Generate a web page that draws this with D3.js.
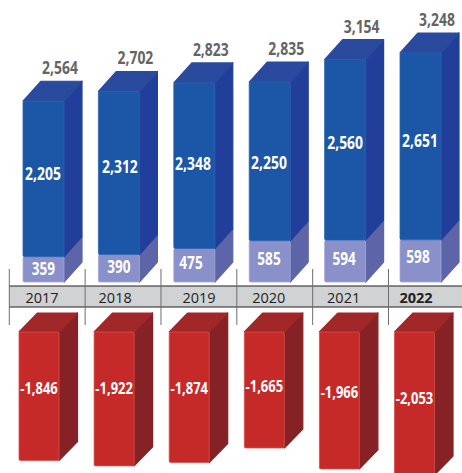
<!DOCTYPE html>
<html><head><meta charset="utf-8">
<script src="https://cdn.jsdelivr.net/npm/d3@7"></script>
<style>html,body{margin:0;padding:0;background:#fff;overflow:hidden}svg{display:block}</style>
</head><body><div id="c"></div>
<script>
const years = ["2017","2018","2019","2020","2021","2022"];
const boldYear = "2022";
const lower = [359,390,475,585,594,598];
const upper = [2205,2312,2348,2250,2560,2651];
const totals = [2564,2702,2823,2835,3154,3248];
const negative = [-1846,-1922,-1874,-1665,-1966,-2053];

const W=462,H=473;
const svg=d3.select("#c").append("svg").attr("width",W).attr("height",H).attr("viewBox",[0,0,W,H]);
const fmt=d3.format(",");
const fmtHyphen=v=>fmt(v).replace("\u2212","-");
const FONT="'Open Sans',sans-serif";

const xTop=d3.scaleLinear().domain([0,5]).range([23,400]);
const xBot=d3.scaleLinear().domain([0,5]).range([19,394.5]);
const xTick=d3.scaleLinear().domain([0,5]).range([9.3,388.5]);
const yUp=d3.scaleLinear().domain([0,3248]).range([282,53]);
const yDn=d3.scaleLinear().domain([0,-2053]).range([332,475]);
const bw=41, dxT=18, dyT=20, bwB=40, dxB=18.5, dyB=19;

// hand placement of the labels in the source layout, relative to the scale-derived anchor
const yearShift=[32.7,30,38,32,31,27.5];
const upperShift=[[-.5,1],[1,0],[-1.3,4],[-.7,7.5],[0,-1],[-.5,.5]];
const lowerShift=[[-.2,5.6],[0,4.8],[-3.3,3.7],[-.7,3.6],[-1,4],[-2.5,2]];
const negShift=[-2,-4.5,-3,2.5,-2,0];

function block(g,x,w,dx,dy,y0,y1,cols,showTop){
  const path=pts=>"M"+pts.map(p=>p.join(",")).join("L")+"Z";
  const st=(s,c)=>s.attr("fill",c).attr("stroke",c).attr("stroke-width",1.2).attr("stroke-linejoin","round");
  st(g.append("path").attr("d",path([[x+w,y0],[x+w+dx,y0-dy],[x+w+dx,y1-dy],[x+w,y1]])),cols.side);
  if(showTop) st(g.append("path").attr("d",path([[x,y0],[x+dx,y0-dy],[x+w+dx,y0-dy],[x+w,y0]])),cols.top);
  g.append("rect").attr("x",x).attr("y",y0).attr("width",w).attr("height",y1-y0).attr("rx",1.5)
    .attr("fill",cols.front).attr("stroke",cols.edge).attr("stroke-width",.8);
}
const colBlue={front:"#1c56a6",side:"#213f9a",top:"#2a4a9e",edge:"#2a62b0"};
const colLight={front:"#8a90c9",side:"#5e64a8",top:"#6a6fb2",edge:"#a3a8d8"};
const colRed={front:"#c62a28",side:"#862226",top:"#a12729",edge:"#d2504c"};

function label(x,y,t,size,fill,sx){
  svg.append("text").attr("transform",`translate(${x},${y}) scale(${sx},1)`)
    .attr("text-anchor","middle").attr("font-family",FONT).attr("font-weight",700)
    .attr("font-size",size).attr("fill",fill).text(t);
}

// band and ticks
svg.append("rect").attr("x",9).attr("y",286).attr("width",W-9).attr("height",21).attr("fill","#d1d2d4");
[286,307].forEach(y=>svg.append("line").attr("x1",9).attr("x2",W).attr("y1",y).attr("y2",y).attr("stroke","#231f20").attr("stroke-width",1));
years.forEach((d,i)=>{
  svg.append("line").attr("x1",xTick(i)).attr("x2",xTick(i)).attr("y1",269).attr("y2",325).attr("stroke","#6d6e71").attr("stroke-width",1);
  svg.append("text").attr("x",xTick(i)+yearShift[i]).attr("y",302.7).attr("text-anchor","middle")
    .attr("font-family",FONT).attr("font-size",14.5).attr("font-weight",d===boldYear?700:400)
    .attr("fill","#231f20").text(d);
});

// upper stacked blocks
years.forEach((d,i)=>{
  const g=svg.append("g"),x=xTop(i);
  const yL=yUp(lower[i]),yT=yUp(totals[i]);
  block(g,x,bw,dxT,dyT,yL,yUp(0),colLight,false);
  block(g,x,bw,dxT,dyT,yT,yL,colBlue,true);
});
// lower red blocks
years.forEach((d,i)=>{
  block(svg.append("g"),xBot(i),bwB,dxB,dyB,yDn(0),yDn(negative[i]),colRed,true);
});
// labels
years.forEach((d,i)=>{
  const x=xTop(i);
  const yL=yUp(lower[i]),yT=yUp(totals[i]);
  label(x+37,yT-dyT-7,fmt(totals[i]),17,"#636466",.82);
  label(x+bw/2+upperShift[i][0],(yT+yL)/2+upperShift[i][1],fmt(upper[i]),17,"#fff",.82);
  label(x+bw/2+lowerShift[i][0],(yL+yUp(0))/2+lowerShift[i][1],fmt(lower[i]),17,"#fff",.8);
  label(xBot(i)+bwB/2,(yDn(0)+yDn(negative[i]))/2+negShift[i],fmtHyphen(negative[i]),16,"#fff",.81);
});
</script></body></html>
